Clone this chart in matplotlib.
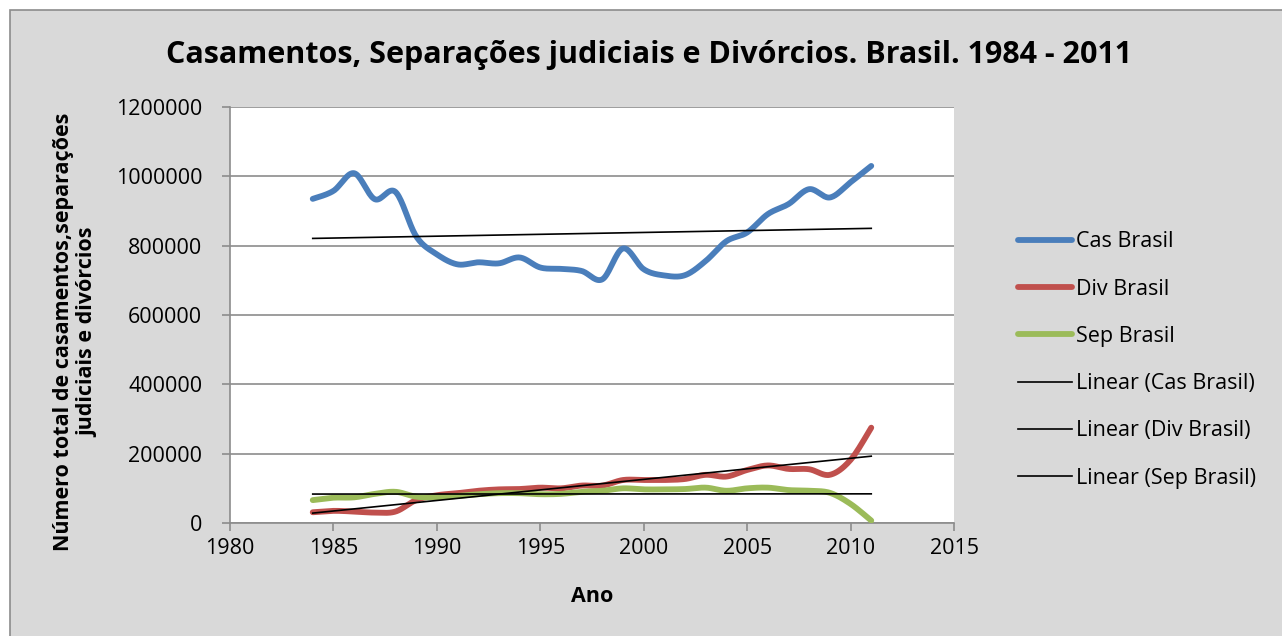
import numpy as np
import matplotlib
matplotlib.use('Agg')
import matplotlib.pyplot as plt
from matplotlib.patches import Rectangle

plt.rcParams['font.family'] = ['Open Sans', 'DejaVu Sans']

# data
anos = list(range(1984, 2012))
cas_brasil = [935000, 958000, 1009000, 934000, 955000, 827000, 775000, 746000,
              752000, 749000, 766000, 737000, 733000, 727000, 703000, 792000,
              732000, 714000, 715000, 756000, 813000, 838000, 891000, 920000,
              963000, 939000, 983000, 1030000]
div_brasil = [31000, 35000, 33000, 30000, 33000, 66000, 80000, 86000,
              93000, 97000, 98000, 102000, 100000, 108000, 108000, 124000,
              124000, 124000, 127000, 139000, 134000, 153000, 166000, 156000,
              155000, 139000, 182000, 275000]
sep_brasil = [66000, 73000, 74000, 84000, 90000, 76000, 74000, 78000,
              83000, 86000, 86000, 83000, 84000, 90000, 93000, 100000,
              97000, 97000, 98000, 102000, 93000, 100000, 102000, 95000,
              93000, 87000, 55000, 7000]
nomes = ['Cas Brasil', 'Div Brasil', 'Sep Brasil']
cores = ['#4a7ebb', '#c0504d', '#9bbb59']
xticks = [1980, 1985, 1990, 1995, 2000, 2005, 2010, 2015]
yticks = [0, 200000, 400000, 600000, 800000, 1000000, 1200000]


def smooth(x, y, n=20):
    # bezier smoothing like the spreadsheet "smoothed line" option
    pts = np.column_stack([x, y]).astype(float)
    out = []
    for i in range(len(pts) - 1):
        p0 = pts[max(i - 1, 0)]
        p1 = pts[i]
        p2 = pts[i + 1]
        p3 = pts[min(i + 2, len(pts) - 1)]
        c1 = p1 + (p2 - p0) / 6
        c2 = p2 - (p3 - p1) / 6
        t = np.linspace(0, 1, n)[:, None]
        seg = (1-t)**3*p1 + 3*(1-t)**2*t*c1 + 3*(1-t)*t**2*c2 + t**3*p2
        out.append(seg if i == 0 else seg[1:])
    out = np.vstack(out)
    return out[:, 0], out[:, 1]


W, H = 1282, 636
fig = plt.figure(figsize=(W/100, H/100), dpi=100)
fig.patch.set_facecolor('white')
fig.patches.append(Rectangle((10/W, -0.1), 1.2, 1 - 10/H + 0.1,
                             transform=fig.transFigure, facecolor='#d9d9d9',
                             edgecolor='#8c8c8c', lw=1.2, zorder=-5))

ax = fig.add_axes([230/W, 1 - 523/H, (954-230)/W, (523-107)/H])
ax.set_facecolor('white')

series = [cas_brasil, div_brasil, sep_brasil]
handles = []
for vals, nome, cor in zip(series, nomes, cores):
    sx, sy = smooth(anos, vals)
    h, = ax.plot(sx, sy, color=cor, lw=4.2, solid_capstyle='round',
                 label=nome, zorder=3)
    handles.append(h)
for vals, nome in zip(series, nomes):
    a, b = np.polyfit(anos, vals, 1)
    h, = ax.plot([anos[0], anos[-1]], [a*anos[0] + b, a*anos[-1] + b],
                 color='black', lw=1.2, label='Linear (%s)' % nome, zorder=4)
    handles.append(h)

ax.set_xlim(1980, 2015)
ax.set_ylim(0, 1200000)
ax.set_xticks(xticks)
ax.set_yticks(yticks)
ax.set_xticklabels([str(v) for v in xticks])
ax.set_yticklabels([str(v) for v in yticks])
ax.grid(axis='y', color='#8c8c8c', lw=1.2)
ax.set_axisbelow(True)
for s in ['top', 'right']:
    ax.spines[s].set_visible(False)
for s in ['left', 'bottom']:
    ax.spines[s].set_color('#8c8c8c')
    ax.spines[s].set_linewidth(1.2)
ax.tick_params(axis='both', colors='#8c8c8c', length=6, width=1.2,
               labelsize=15.5, labelcolor='black')
ax.tick_params(axis='y', pad=14)
ax.tick_params(axis='x', pad=5)

fig.text(649/W, 1 - 55/H,
         'Casamentos, Separações judiciais e Divórcios. Brasil. 1984 - 2011',
         ha='center', va='center', fontsize=22, fontweight='bold')
fig.text(592/W, 1 - 597/H, 'Ano', ha='center', va='center',
         fontsize=15.5, fontweight='bold')
fig.text(76/W, 1 - 332/H,
         'Número total de casamentos,separações\njudiciais e divórcios',
         ha='center', va='center', rotation=90, multialignment='center',
         fontsize=15.5, fontweight='bold', linespacing=1.2)

fig.legend(handles=handles, loc='center left',
           bbox_to_anchor=(1018/W, 1 - 360/H), frameon=False, fontsize=15.5,
           handlelength=2.5, handletextpad=0.2, labelspacing=1.22,
           borderpad=0, borderaxespad=0)

fig.savefig('out.png', dpi=100, facecolor=fig.get_facecolor())
